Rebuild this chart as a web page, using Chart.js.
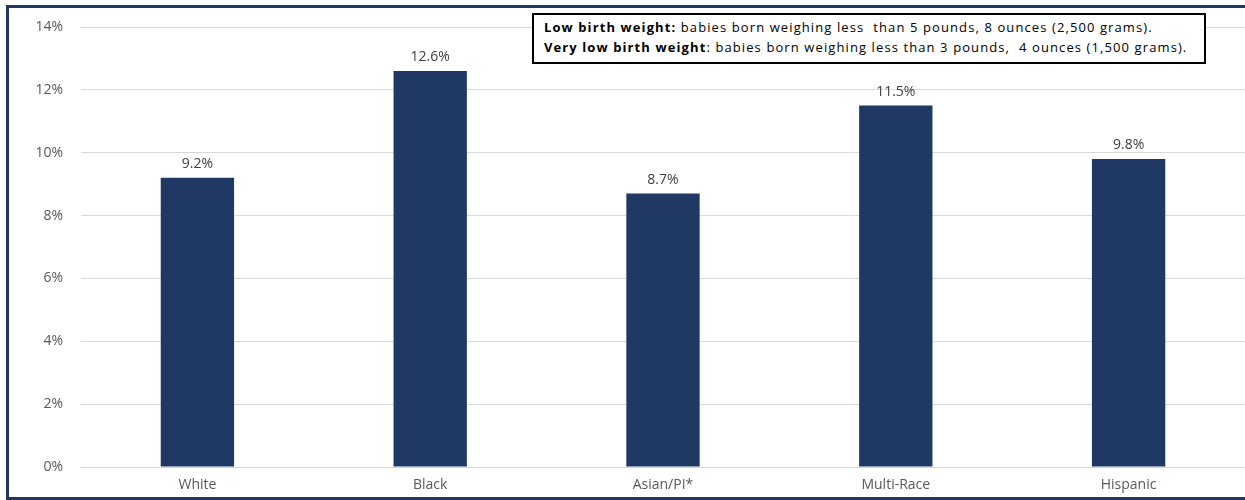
<!DOCTYPE html>
<html>
<head>
<meta charset="utf-8">
<script src="https://cdn.jsdelivr.net/npm/chart.js@4.4.1/dist/chart.umd.min.js"></script>
<style>
    html, body { margin: 0; padding: 0; background: #fff; }
    #wrap { position: relative; width: 1245px; height: 500px; overflow: hidden; }
    #chart { position: absolute; left: 0; top: 0; }
    #note {
        position: absolute; left: 532px; top: 13px; width: 660px; height: 45px;
        border: 2px solid #000; background: #fff;
        font-family: "Open Sans", sans-serif; font-size: 13px; letter-spacing: 1.1px; color: #000;
        line-height: 20px; padding: 2px 0 0 10px; box-sizing: content-box;
        white-space: pre;
    }
</style>
</head>
<body>
<div id="wrap">
    <canvas id="chart" width="1245" height="500"></canvas>
    <div id="note"><b>Low birth weight:</b> babies born weighing less  than 5 pounds, 8 ounces (2,500 grams).
<b>Very low birth weight</b>: babies born weighing less than 3 pounds,  4 ounces (1,500 grams).</div>
</div>
<script>
// chart data
const categories = ['White', 'Black', 'Asian/PI*', 'Multi-Race', 'Hispanic'];
const lowBirthWeight = [9.2, 12.6, 8.7, 11.5, 9.8];
const yTicks = [0, 2, 4, 6, 8, 10, 12, 14];

// value labels above the bars
const barLabels = {
    id: 'barLabels',
    afterDatasetsDraw(chart) {
        const ctx = chart.ctx;
        const meta = chart.getDatasetMeta(0);
        ctx.save();
        ctx.font = '14px "Open Sans", sans-serif';
        ctx.fillStyle = '#404040';
        ctx.textAlign = 'center';
        ctx.textBaseline = 'alphabetic';
        meta.data.forEach((bar, i) => {
            ctx.fillText(lowBirthWeight[i].toFixed(1) + '%', bar.x, bar.y - 10);
        });
        ctx.restore();
    }
};

// outer frame
const frame = {
    id: 'frame',
    afterDraw(chart) {
        const ctx = chart.ctx;
        ctx.save();
        ctx.strokeStyle = '#1F3864';
        ctx.lineWidth = 3;
        ctx.strokeRect(7.5, 6.5, 1260, 492);
        ctx.restore();
    }
};

new Chart(document.getElementById('chart'), {
    type: 'bar',
    data: {
        labels: categories,
        datasets: [{
            data: lowBirthWeight,
            backgroundColor: '#203864',
            barPercentage: 1,
            categoryPercentage: 0.315
        }]
    },
    options: {
        responsive: false,
        animation: false,
        layout: { padding: { top: 27, right: 0, left: 0, bottom: 0 } },
        plugins: { legend: { display: false }, tooltip: { enabled: false } },
        scales: {
            x: {
                grid: { display: false, drawTicks: false },
                border: { display: false },
                ticks: { color: '#595959', font: { family: 'Open Sans', size: 14 }, padding: 10 },
                afterFit(scale) { scale.height = 33; }
            },
            y: {
                min: 0,
                max: 14,
                afterBuildTicks(scale) { scale.ticks = yTicks.map(v => ({ value: v })); },
                grid: { color: '#D9D9D9', drawTicks: false },
                border: { display: false },
                ticks: {
                    color: '#595959',
                    font: { family: 'Open Sans', size: 14 },
                    padding: 18,
                    callback: v => v + '%'
                },
                afterFit(scale) { scale.width = 81; }
            }
        }
    },
    plugins: [barLabels, frame]
});
</script>
</body>
</html>
